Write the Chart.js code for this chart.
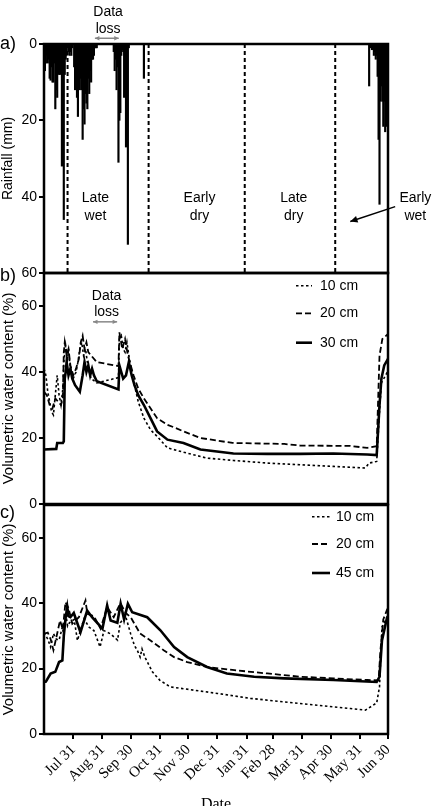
<!DOCTYPE html>
<html>
<head>
<meta charset="utf-8">
<script src="https://cdn.jsdelivr.net/npm/chart.js@4.4.0/dist/chart.umd.min.js"></script>
<style>
html, body { margin: 0; padding: 0; background: #fff; overflow: hidden; width: 434px; height: 806px; }
canvas { position: absolute; left: 0; }
</style>
</head>
<body>
<canvas id="cA" width="434" height="290" style="top:0px"></canvas>
<canvas id="cB" width="434" height="265" style="top:255px"></canvas>
<canvas id="cC" width="434" height="326" style="top:488px"></canvas>
<script>
// days counted from Jun 30 (day 0) to Jun 30 next year (day 365)
const tickDays = [31, 62, 92, 123, 153, 184, 215, 243, 274, 304, 335, 365];
const tickLabels = ['Jul 31', 'Aug 31', 'Sep 30', 'Oct 31', 'Nov 30', 'Dec 31', 'Jan 31', 'Feb 28', 'Mar 31', 'Apr 30', 'May 31', 'Jun 30'];
const seasonDays = [25, 111, 213, 309];

// daily rainfall (mm)
const rainDays = [1,2,3,4,5,6,7,8,9,10,11,12,13,14,15,16,17,18,19,20,21,22,23,24,26,27,28,29,30,
  32,33,34,35,36,37,38,39,40,41,42,43,44,45,46,47,48,49,50,51,52,53,54,55,56,
  74,75,76,77,78,79,80,81,82,83,84,85,86,87,88,89,90,106,
  345,347,348,349,350,351,352,353,354,355,356,357,358,359,360,361,362,363,364,365];
const rainMm = [7,5,3,5,4,9,9.5,6,10,10,5,17,12,14,7,8,8,7,32,20,46,8,4,3,2,3,2,3,1,
  6,12,9,14,19,11,12,9,12,25,17,21,13,15.5,17,9,13,7,10,4,4,3,1,1,1,
  2,7,4,12,6,31,20,18,3,1.5,2,14,8,27,14,52.5,1,9,
  11,1,1.5,1,3,2,4,3,8.5,25,42,15,11,15,21.6,15,23,15,21.6,15];

// panel b: volumetric water content (%) [day, value]
const b10 = [[0,41],[2,39],[4,34],[6,31],[8,28],[10,27],[12,33],[14,39],[16,33],[18,30],[20,35],[21,43],[23,48],[25,44],[26,47],[28,41],[31,38],[34,40],[36,43],[38,47],[40,49],[42,45],[44,47],[46,43],[48,40],[50,38],[56,36.7],[79,38.3],[80,50],[82,51],[84,47],[86,46],[88,49],[90,45],[95,37.2],[100,31],[106,26],[113,22.5],[120,20.5],[131,17],[152,15.4],[173,13.9],[201,13.2],[237,12.4],[272,11.9],[307,11.4],[341,10.9],[345,12.4],[353,12.9],[356,28],[358,36.7],[364,39.8],[365,40]];
const b20 = [[0,34],[3,33],[6,30],[9,29],[12,32],[15,31],[18,30],[20,32],[21,46],[22,49],[24,45],[26,47],[28,42],[31,39],[34,41],[37,44],[39,49],[41,51],[43,47],[45,49],[47,46],[50,45],[56,43],[79,41.8],[80,52],[83,47],[86,50],[89,45],[95,39],[100,35],[106,32],[113,29],[120,26],[131,24],[140,23],[148,22],[166,20],[200,18.5],[255,18.2],[272,17.7],[325,17.6],[343,17],[353,17.5],[356,45],[359,50],[365,51.5]];
const b30 = [[0,16.5],[13,16.7],[14,18.5],[20,18.5],[21,19],[22,38],[23,40],[24,43],[26,39],[28,41],[30,38],[33,36],[38,34],[41,39],[43,43],[45,40],[47,42],[49,39],[51,41],[53,39],[56,37.2],[79,34.7],[80,42],[82,40],[84,38],[87,39],[90,43],[93,39],[96,36],[100,33],[106,30],[113,26],[120,22],[131,19.5],[148,18.5],[166,16.5],[201,15.3],[237,15.2],[272,15.2],[307,15.3],[343,15],[353,14.8],[356,30],[358,38],[361,42],[365,44]];

// panel c
const c10 = [[0,31],[4,29],[7,26.6],[10,30.7],[13,29],[16,28.7],[19.5,32.7],[21,30],[23,37],[25,33],[27,34],[32,35],[35.5,28.6],[39,32],[42.5,35.2],[47.7,32.7],[53,31.6],[59.5,26.6],[63.6,31.6],[70.7,30.6],[78,28.7],[81,34],[86.6,36],[92,30.6],[96,27],[99,25.6],[102,23.5],[104,26],[107,23.5],[115,19],[123,16.4],[134,14.4],[159,13.4],[184,12.4],[219,10.9],[255,9.8],[290,8.8],[325,7.8],[341,7.3],[353,9.5],[356,14.4],[358.6,32.7],[364,35.6],[365,34]];
const c20 = [[0,30.7],[4,31],[7,29],[10,25.6],[14,30.7],[17,34.7],[20,32],[22.8,40.3],[26,38.5],[30,33.7],[37,35.7],[44,40.8],[46,36.7],[53,36],[60,32.2],[67,38.8],[74,35.7],[81,40],[86.7,37],[92,35.7],[102,30.7],[113,28.6],[127,25.6],[138,23.5],[152,22],[173,20.5],[202,19.5],[237,18.5],[272,17.5],[307,17],[343,16.5],[355,16.4],[357,25.6],[360,35],[364,38],[365,38.5]];
const c45 = [[0,15.9],[2,16],[7,18.5],[12,19],[16,22],[19.5,22.5],[21,30],[23,35.7],[24.7,38.8],[26,36],[28,35.7],[31.6,37],[38.7,31.1],[45.8,37.7],[51,35.7],[62,32.2],[67,39.3],[70.7,34.7],[77.8,34],[81.3,39.8],[85,35],[89,39.8],[93.6,37.2],[109.5,35.7],[123.5,31.7],[138,26.6],[152,23.5],[173,20.5],[194,18.5],[223,17.5],[255,17],[307,16.5],[353,15.9],[356,17.5],[358.6,28.6],[364,35.6],[365,36]];

Chart.defaults.font.family = '"Liberation Sans", Arial, sans-serif';
Chart.defaults.color = '#000';

const frame = {
  id: 'frame',
  afterDraw(chart, args, o) {
    const ctx = chart.ctx, a = chart.chartArea;
    ctx.save();
    ctx.strokeStyle = '#000';
    ctx.lineWidth = 2.5;
    ctx.strokeRect(a.left, a.top, a.right - a.left, a.bottom - a.top);
    ctx.fillStyle = '#000';
    ctx.font = '18px "Liberation Sans"';
    ctx.textBaseline = 'middle';
    ctx.textAlign = 'left';
    ctx.fillText(o.letter, 0, a.top + o.dy);
    ctx.restore();
  }
};

function arrowHead(ctx, x1, y1, x2, y2, len) {
  const ang = Math.atan2(y2 - y1, x2 - x1);
  ctx.beginPath();
  ctx.moveTo(x2, y2);
  ctx.lineTo(x2 - len * Math.cos(ang - 0.45), y2 - len * Math.sin(ang - 0.45));
  ctx.lineTo(x2 - len * Math.cos(ang + 0.45), y2 - len * Math.sin(ang + 0.45));
  ctx.closePath();
  ctx.fill();
}

const notes = {
  id: 'notes',
  afterDraw(chart, args, o) {
    const ctx = chart.ctx, xs = chart.scales.x, ys = chart.scales.y;
    ctx.save();
    ctx.font = '14px "Liberation Sans"';
    ctx.textAlign = 'center';
    ctx.textBaseline = 'middle';
    ctx.fillStyle = '#000';
    (o.texts || []).forEach(t => {
      ctx.fillText(t[0], xs.getPixelForValue(t[1]), ys.getPixelForValue(t[2]));
    });
    (o.arrows || []).forEach(r => {
      const x1 = xs.getPixelForValue(r.from[0]), y1 = ys.getPixelForValue(r.from[1]);
      const x2 = xs.getPixelForValue(r.to[0]), y2 = ys.getPixelForValue(r.to[1]);
      ctx.strokeStyle = r.color;
      ctx.fillStyle = r.color;
      ctx.lineWidth = r.width;
      ctx.beginPath();
      ctx.moveTo(x1, y1);
      ctx.lineTo(x2, y2);
      ctx.stroke();
      arrowHead(ctx, x1, y1, x2, y2, r.head);
      if (r.both) arrowHead(ctx, x2, y2, x1, y1, r.head);
    });
    (o.vlines || []).forEach(d => {
      const x = xs.getPixelForValue(d);
      ctx.strokeStyle = '#000';
      ctx.lineWidth = 2;
      ctx.setLineDash([4, 3]);
      ctx.beginPath();
      ctx.moveTo(x, chart.chartArea.top);
      ctx.lineTo(x, chart.chartArea.bottom);
      ctx.stroke();
      ctx.setLineDash([]);
    });
    ctx.restore();
  }
};

const key = {
  id: 'key',
  afterDraw(chart, args, o) {
    if (!o.rows) return;
    const ctx = chart.ctx, a = chart.chartArea;
    ctx.save();
    ctx.font = '14px "Liberation Sans"';
    ctx.fillStyle = '#000';
    ctx.strokeStyle = '#000';
    ctx.textBaseline = 'middle';
    ctx.textAlign = 'left';
    chart.data.datasets.forEach((ds, i) => {
      const y = a.top + o.rows[i];
      ctx.lineWidth = ds.borderWidth;
      ctx.setLineDash(ds.borderDash || []);
      ctx.beginPath();
      ctx.moveTo(a.right + o.x0, y);
      ctx.lineTo(a.right + o.x1, y);
      ctx.stroke();
      ctx.setLineDash([]);
      ctx.fillText(ds.label, a.right + o.tx, y);
    });
    ctx.restore();
  }
};

function yAxis(title, max, reverse, size) {
  return {
    min: 0, max: max, reverse: reverse,
    afterFit: s => { s.width = 44; },
    afterBuildTicks: s => { s.ticks = [0, 20, 40, 60].map(v => ({ value: v })); },
    ticks: { font: { size: 14 }, color: '#000', padding: 2 },
    grid: { drawOnChartArea: false, color: '#000', lineWidth: 2, tickLength: 5 },
    border: { color: '#000', width: 2 },
    title: { display: true, text: title, font: { size: size }, color: '#000', padding: 0 }
  };
}

function hiddenX() {
  return { type: 'linear', min: 0, max: 365, offset: false, display: false };
}

function lineSet(label, pts, width, dash) {
  return {
    label: label,
    data: pts.map(p => ({ x: p[0], y: p[1] })),
    borderColor: '#000', borderWidth: width, borderDash: dash,
    pointRadius: 0, tension: 0, fill: false
  };
}

function baseOpts(pad) {
  return {
    responsive: false, animation: false, devicePixelRatio: 1,
    layout: { padding: pad }
  };
}

// a) rainfall
new Chart(document.getElementById('cA'), {
  type: 'bar',
  data: {
    datasets: [{
      data: rainDays.map((d, i) => ({ x: d, y: rainMm[i] })),
      backgroundColor: '#000', borderWidth: 0, barThickness: 1.5
    }]
  },
  options: Object.assign(baseOpts({ top: 44, bottom: 17, left: 0, right: 46 }), {
    scales: { x: hiddenX(), y: yAxis('Rainfall (mm)', 60, true, 14) },
    plugins: {
      legend: { display: false }, tooltip: { enabled: false },
      frame: { letter: 'a)', dy: 0 },
      notes: {
        vlines: seasonDays,
        texts: [['Data', 68, -8.4], ['loss', 68, -3.9],
          ['Late', 54.6, 40.5], ['wet', 54.6, 45],
          ['Early', 165, 40.5], ['dry', 165, 45],
          ['Late', 265, 40.5], ['dry', 265, 45],
          ['Early', 394, 40.5], ['wet', 394, 45]],
        arrows: [
          { from: [54, -1.5], to: [79.3, -1.5], color: '#888', width: 1.5, head: 5, both: true },
          { from: [372.6, 42.6], to: [325, 46.5], color: '#000', width: 1.5, head: 8, both: false }
        ]
      }
    }
  }),
  plugins: [notes, frame]
});

// b) soil moisture, site 1
new Chart(document.getElementById('cB'), {
  type: 'line',
  data: {
    datasets: [
      lineSet('10 cm', b10, 1.6, [2.5, 2.5]),
      lineSet('20 cm', b20, 1.8, [6, 3]),
      lineSet('30 cm', b30, 2.6, [])
    ]
  },
  options: Object.assign(baseOpts({ top: 18, bottom: 16, left: 0, right: 46 }), {
    scales: { x: hiddenX(), y: yAxis('Volumetric water content (%)', 70, false, 15) },
    plugins: {
      legend: { display: false }, tooltip: { enabled: false },
      frame: { letter: 'b)', dy: 3 },
      key: { rows: [12.7, 40.3, 69.7], x0: -92, x1: -76, tx: -68 },
      notes: {
        texts: [['Data', 66.4, 63.1], ['loss', 66.4, 58.1]],
        arrows: [{ from: [52, 55.2], to: [77.6, 55.2], color: '#888', width: 1.5, head: 5, both: true }]
      }
    }
  }),
  plugins: [notes, key, frame]
});

// c) soil moisture, site 2
new Chart(document.getElementById('cC'), {
  type: 'line',
  data: {
    datasets: [
      lineSet('10 cm', c10, 1.6, [2.5, 2.5]),
      lineSet('20 cm', c20, 1.8, [6, 3]),
      lineSet('45 cm', c45, 2.6, [])
    ]
  },
  options: Object.assign(baseOpts({ top: 17, bottom: 0, left: 0, right: 46 }), {
    scales: {
      x: {
        type: 'linear', min: 0, max: 365, offset: false,
        afterBuildTicks: s => { s.ticks = tickDays.map(v => ({ value: v })); },
        afterFit: s => { s.height = 80; },
        ticks: {
          autoSkip: false, maxRotation: 45, minRotation: 45, padding: 2, color: '#000',
          font: { family: '"Liberation Serif", serif', size: 15 },
          callback: (v, i) => tickLabels[i]
        },
        grid: { drawOnChartArea: false, color: '#000', lineWidth: 2, tickLength: 5 },
        border: { color: '#000', width: 2 },
        title: { display: true, text: 'Date', color: '#000', padding: 0,
          font: { family: '"Liberation Serif", serif', size: 16 } }
      },
      y: yAxis('Volumetric water content (%)', 70, false, 15)
    },
    plugins: {
      legend: { display: false }, tooltip: { enabled: false },
      frame: { letter: 'c)', dy: 8 },
      key: { rows: [11.7, 39, 68], x0: -76, x1: -58, tx: -52 }
    }
  }),
  plugins: [key, frame]
});
</script>
</body>
</html>
